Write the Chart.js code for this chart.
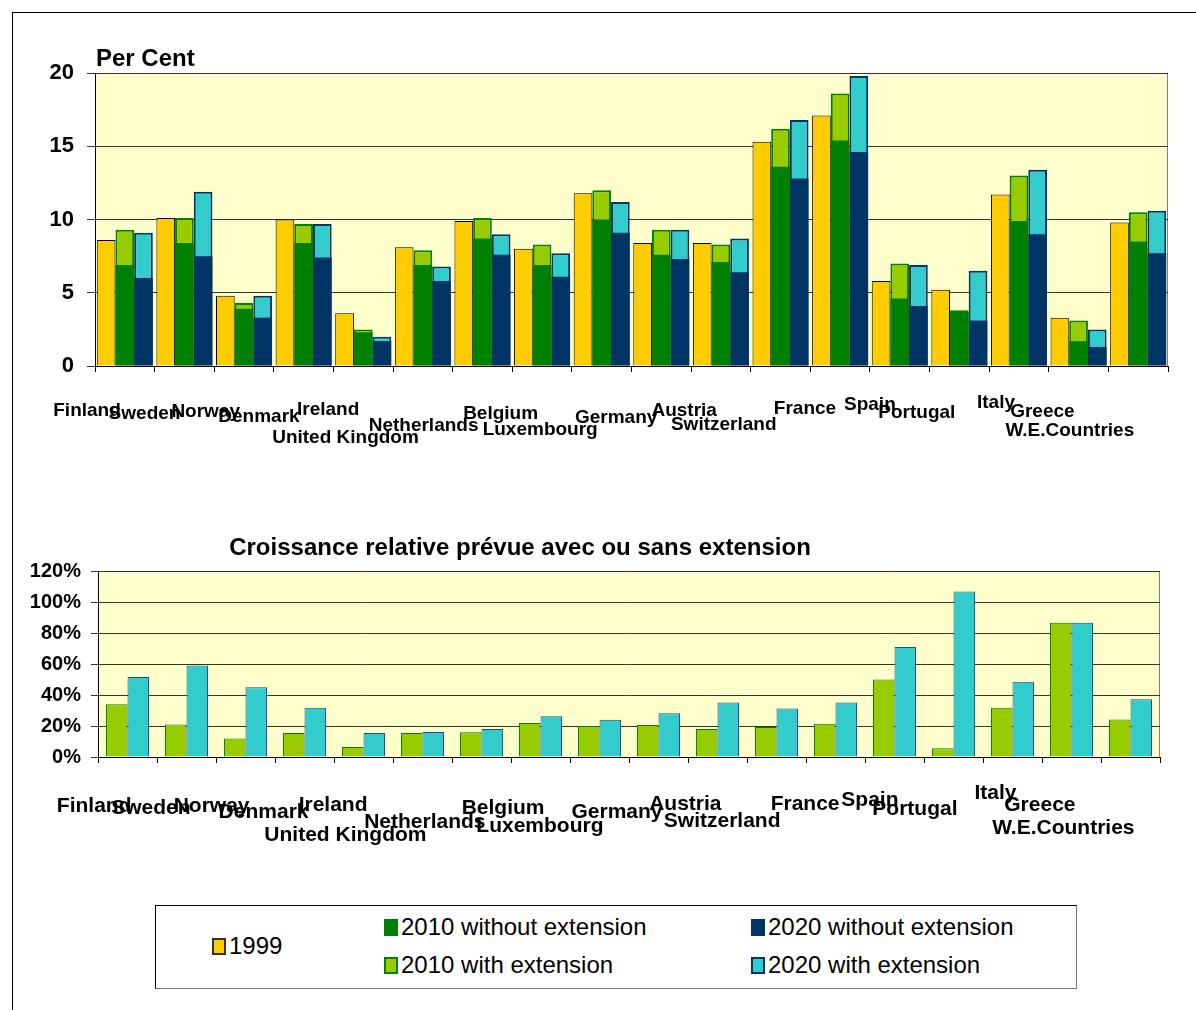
<!DOCTYPE html>
<html>
<head>
<meta charset="utf-8">
<script src="https://cdn.jsdelivr.net/npm/chart.js@4.4.1/dist/chart.umd.min.js"></script>
<style>
  body { margin: 0; background: #fff; font-family: 'Liberation Sans', Arial, sans-serif; }
  #page { position: relative; width: 1196px; height: 1010px; overflow: hidden; }
  #frame { position: absolute; left: 12px; top: 12px; right: 0; bottom: 0; border-top: 1px solid #000; border-left: 1px solid #000; }
  canvas { position: absolute; left: 0; }
  .caption { position: absolute; font-weight: bold; color: #000; white-space: nowrap; line-height: 28px; }
  #legend { position: absolute; left: 155px; top: 905px; width: 920px; height: 82px; border: 1px solid #000; border-right-color: #777; border-bottom-color: #777; }
  .item { position: absolute; display: flex; align-items: center; font-size: 24px; line-height: 28px; color: #000; white-space: nowrap; }
  .swatch { width: 10px; height: 13px; margin-right: 3px; border: 2px solid; }
</style>
</head>
<body>
<div id="page">
  <div id="frame"></div>
  <canvas id="shareChart" width="1196" height="470" style="top:0"></canvas>
  <div class="caption" style="left:96px; top:44px; font-size:24px;">Per Cent</div>
  <canvas id="growthChart" width="1196" height="400" style="top:470px"></canvas>
  <div class="caption" style="left:520px; top:533px; font-size:24px; transform:translateX(-50%);">Croissance relative prévue avec ou sans extension</div>
  <div id="legend"></div>
</div>
<script>
const FONT = "'Liberation Sans', Arial, sans-serif";

const countries = ['Finland', 'Sweden', 'Norway', 'Denmark', 'Ireland', 'United Kingdom', 'Netherlands',
  'Belgium', 'Luxembourg', 'Germany', 'Austria', 'Switzerland', 'France', 'Spain', 'Portugal',
  'Italy', 'Greece', 'W.E.Countries'];

// share, per cent
const share1999        = [8.6, 10.1, 4.8, 10.0, 3.6, 8.1, 9.9, 8.0, 11.8, 8.4, 8.4, 15.3, 17.1, 5.8, 5.2, 11.7, 3.3, 9.8];
const share2010Without = [6.9, 8.4, 3.9, 8.4, 2.3, 6.9, 8.7, 6.9, 10.0, 7.6, 7.1, 13.6, 15.4, 4.6, 3.7, 9.9, 1.7, 8.5];
const share2010With    = [9.3, 10.1, 4.3, 9.7, 2.5, 7.9, 10.1, 8.3, 12.0, 9.3, 8.3, 16.2, 18.6, 7.0, 3.8, 13.0, 3.1, 10.5];
const share2020Without = [6.0, 7.5, 3.3, 7.4, 1.7, 5.8, 7.6, 6.1, 9.1, 7.3, 6.4, 12.8, 14.6, 4.1, 3.1, 9.0, 1.3, 7.7];
const share2020With    = [9.1, 11.9, 4.8, 9.7, 2.0, 6.8, 9.0, 7.7, 11.2, 9.3, 8.7, 16.8, 19.8, 6.9, 6.5, 13.4, 2.5, 10.6];

// relative growth, per cent
const growth2010 = [34, 21, 12, 15.5, 6.5, 15.5, 16, 22, 20, 20.7, 18, 19.4, 21.4, 50, 5.6, 31.7, 86.6, 24.2];
const growth2020 = [51.6, 59, 45, 31.7, 15.5, 16.2, 18.1, 26.3, 24, 28.3, 35.2, 31.3, 35.2, 71, 106.8, 48.6, 86.6, 37.3];

const shareTicks = [0, 5, 10, 15, 20];
const growthTicks = [0, 20, 40, 60, 80, 100, 120];

// how far below the axis each country name sits (label centre, px)
const shareLabelDrop  = [45, 48, 46, 51, 44, 72, 60, 48, 64, 52, 45, 59, 43, 39, 47, 37, 46, 65];
const growthLabelDrop = [49, 51, 49, 55, 48, 78, 65, 51, 69, 55, 47, 64, 47, 43, 52, 36, 48, 71];

const colors = {
  y1999: '#FFCC00', green: '#008000', lime: '#99CC00', navy: '#003366', cyan: '#33CCCC'
};

// yellow plot background with a grey frame
const plotArea = {
  id: 'plotArea',
  beforeDraw(chart) {
    const { ctx, chartArea: a } = chart;
    ctx.save();
    ctx.fillStyle = '#FFFFCC';
    ctx.fillRect(a.left, a.top, a.width, a.height);
    ctx.strokeStyle = '#808080';
    ctx.lineWidth = 1;
    ctx.strokeRect(a.left + 0.5, a.top + 0.5, a.width - 1, a.height);
    ctx.restore();
  }
};

// single-line labels whose line height pushes each one down by its own amount
function staggeredFont(size, drops, tickLen) {
  return ctx => ({
    family: FONT, size: size, weight: 'bold',
    lineHeight: (2 * (drops[ctx.index] - tickLen)) + 'px'
  });
}

function xAxis(size, drops, offset, height) {
  return {
    stacked: true,
    grid: { offset: true, drawOnChartArea: false, tickLength: 6, color: '#000' },
    border: { color: '#000' },
    ticks: {
      autoSkip: false, maxRotation: 0, minRotation: 0,
      align: 'end', labelOffset: offset, padding: 0, color: '#000',
      font: staggeredFont(size, drops, 6)
    },
    afterFit: s => { s.height = height; }
  };
}

function yAxis(ticks, fontSize, pad, tickLen, width, fmt) {
  return {
    stacked: false,
    min: ticks[0], max: ticks[ticks.length - 1],
    afterBuildTicks: s => { s.ticks = ticks.map(v => ({ value: v })); },
    grid: { color: '#333', tickLength: tickLen },
    border: { color: '#000' },
    ticks: { padding: pad, color: '#000', font: { family: FONT, size: fontSize, weight: 'bold' }, callback: fmt },
    afterFit: s => { s.width = width; }
  };
}

const common = {
  responsive: false,
  animation: false,
  devicePixelRatio: 1,
  plugins: { legend: { display: false }, tooltip: { enabled: false } }
};

const shareSets = [
  { label: '1999', data: share1999, stack: '1999', backgroundColor: colors.y1999, borderColor: '#000', borderWidth: 1 },
  { label: '2010 without extension', data: share2010Without, stack: '2010', backgroundColor: colors.green, borderColor: colors.green, borderWidth: 0 },
  { label: '2020 without extension', data: share2020Without, stack: '2020', backgroundColor: colors.navy, borderColor: colors.navy, borderWidth: 0 },
  // drawn underneath the "without" bars of the same year
  { label: '2010 with extension', data: share2010With, stack: '2010', backgroundColor: colors.lime, borderColor: colors.green, borderWidth: 2 },
  { label: '2020 with extension', data: share2020With, stack: '2020', backgroundColor: colors.cyan, borderColor: colors.navy, borderWidth: 2 }
];

new Chart(document.getElementById('shareChart'), {
  type: 'bar',
  data: { labels: countries, datasets: shareSets },
  options: {
    ...common,
    layout: { padding: { top: 73, right: 28, left: 0, bottom: 0 } },
    datasets: { bar: { categoryPercentage: 0.94, barPercentage: 1 } },
    scales: {
      x: xAxis(19, shareLabelDrop, -4, 104),
      y: yAxis(shareTicks, 22, 13, 8, 95)
    }
  },
  plugins: [plotArea]
});

new Chart(document.getElementById('growthChart'), {
  type: 'bar',
  data: {
    labels: countries,
    datasets: [
      { label: '2010 with extension', data: growth2010, backgroundColor: colors.lime, borderColor: colors.green, borderWidth: 1 },
      { label: '2020 with extension', data: growth2020, backgroundColor: colors.cyan, borderColor: '#1F4F6F', borderWidth: 1 }
    ]
  },
  options: {
    ...common,
    layout: { padding: { top: 101, right: 36, left: 0, bottom: 0 } },
    datasets: { bar: { categoryPercentage: 0.73, barPercentage: 1 } },
    scales: {
      x: Object.assign(xAxis(21, growthLabelDrop, 4, 113), { stacked: false }),
      y: yAxis(growthTicks, 20, 10, 7, 98, v => v + '%')
    }
  },
  plugins: [plotArea]
});

// shared legend: 1999 on its own, then 2010 and 2020 columns
const legendSlots = [
  { set: shareSets[0], left: 56, top: 26 },
  { set: shareSets[1], left: 228, top: 7 },
  { set: shareSets[3], left: 228, top: 45 },
  { set: shareSets[2], left: 595, top: 7 },
  { set: shareSets[4], left: 595, top: 45 }
];
const legend = document.getElementById('legend');
legendSlots.forEach(({ set, left, top }) => {
  const item = document.createElement('div');
  item.className = 'item';
  item.style.left = left + 'px';
  item.style.top = top + 'px';
  const sw = document.createElement('span');
  sw.className = 'swatch';
  sw.style.background = set.backgroundColor;
  sw.style.borderColor = set.label === '1999' ? '#333' : set.borderColor;
  item.appendChild(sw);
  item.appendChild(document.createTextNode(set.label));
  legend.appendChild(item);
});
</script>
</body>
</html>
